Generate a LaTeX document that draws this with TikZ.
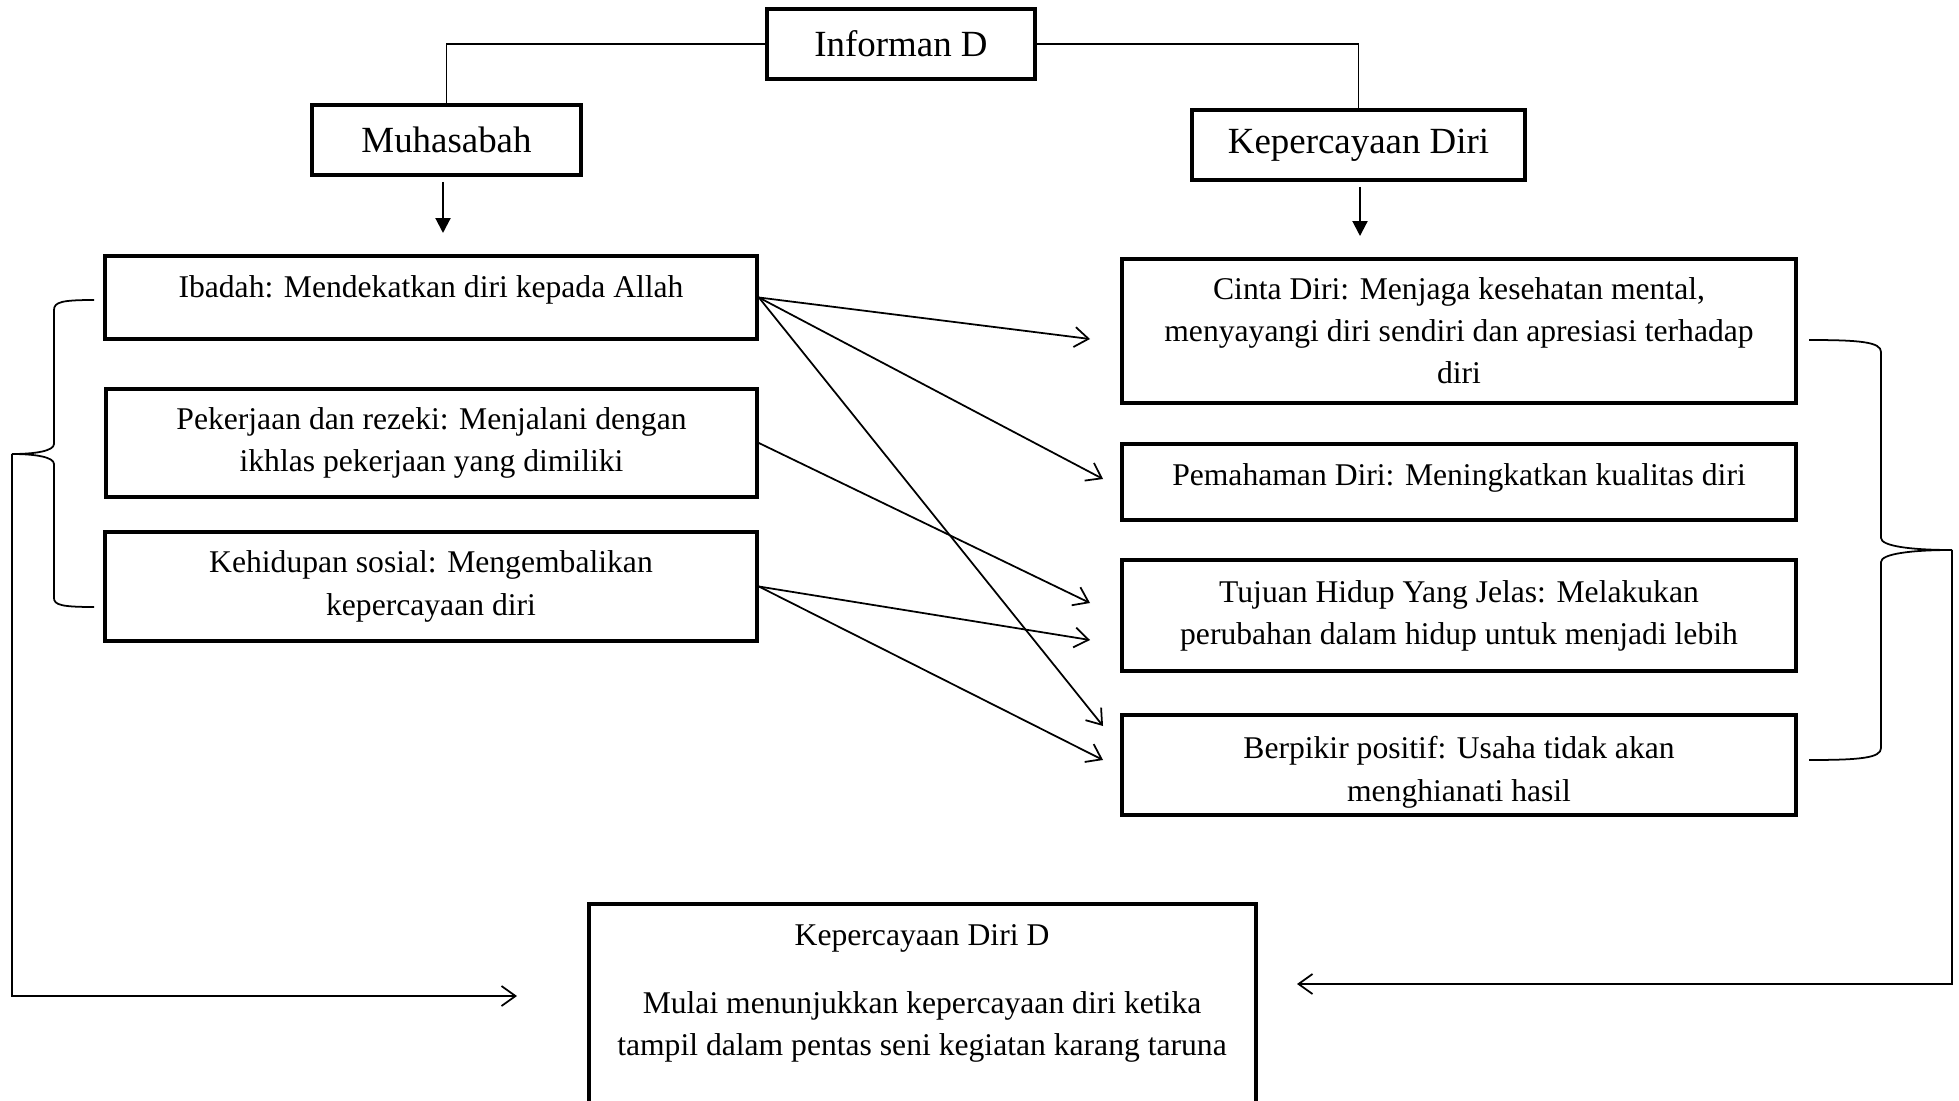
\documentclass[tikz,border=0pt]{standalone}
\usepackage{fontspec}
\setmainfont{Liberation Serif}
\usepackage{tikz}
\usetikzlibrary{arrows.meta, positioning, calc}

\tikzset{
    headbox/.style={draw, line width=2.2pt, minimum height=1.4cm, font=\fontsize{21}{26}\selectfont},
    itembox/.style={draw, line width=2.2pt, align=center, font=\fontsize{18}{24}\selectfont},
    itemtext/.style={align=center, font=\fontsize{18}{24}\selectfont},
    link/.style={line width=1pt},
    flow/.style={line width=1pt, -{Straight Barb[length=0.28cm, width=0.4cm]}},
    down/.style={line width=1.2pt, -{Triangle[length=0.3cm, width=0.3cm]}},
}

\begin{document}
\begin{tikzpicture}[x=0.02cm, y=-0.02cm]
    \useasboundingbox (0,0) rectangle (1959,1101);

    \node (info) [headbox, minimum width=5.36cm] at (901,44) {Informan D};
    \node (muh) [headbox, minimum width=5.38cm] at (446.5,140) {Muhasabah};
    \node (kep) [headbox, minimum width=6.66cm] at (1358.5,145) {Kepercayaan Diri};

    \node (ibd) [itembox, minimum width=13.04cm, minimum height=1.66cm, text depth=12.5pt] at (431,297.5) {Ibadah: Mendekatkan diri kepada Allah};
    \node (pkj) [itembox, minimum width=13.02cm, minimum height=2.16cm] at (431.5,443) {Pekerjaan dan rezeki: Menjalani dengan\\ikhlas pekerjaan yang dimiliki};
    \node (kso) [itembox, minimum width=13.04cm, minimum height=2.18cm] at (431,586.5) {Kehidupan sosial: Mengembalikan\\kepercayaan diri};

    \node (cin) [itembox, minimum width=13.48cm, minimum height=2.88cm] at (1459,331) {Cinta Diri: Menjaga kesehatan mental,\\menyayangi diri sendiri dan apresiasi terhadap\\diri};
    \node (pem) [itembox, minimum width=13.48cm, minimum height=1.52cm, text depth=8.5pt] at (1459,482) {Pemahaman Diri: Meningkatkan kualitas diri};
    \node (tuj) [itembox, minimum width=13.48cm, minimum height=2.22cm] at (1459,615.5) {Tujuan Hidup Yang Jelas: Melakukan\\perubahan dalam hidup untuk menjadi lebih};
    \node (bpk) [itembox, minimum width=13.48cm, minimum height=2cm, text height=45pt] at (1459,765) {Berpikir positif: Usaha tidak akan\\menghianati hasil};

    \node (kdd) [draw, line width=2.2pt, minimum width=13.34cm, minimum height=5cm, anchor=north] at (922.5,902) {};
    \node (kddtitle) [itemtext] at (922,938) {Kepercayaan Diri D};
    \node (kddbody) [itemtext] at (922,1027) {Mulai menunjukkan kepercayaan diri ketika\\tampil dalam pentas seni kegiatan karang taruna};

    \coordinate (muhtip) at (443,233);
    \coordinate (keptip) at (1360,236);
    \coordinate (a1) at (1090,339);
    \coordinate (a2) at (1103,479);
    \coordinate (a3) at (1103,726);
    \coordinate (a4) at (1090,603);
    \coordinate (a5) at (1090,640);
    \coordinate (a6) at (1103,760);
    \coordinate (lbrace) at (12,454);
    \coordinate (lend) at (517,996);
    \coordinate (rbrace) at (1952,550);
    \coordinate (rend) at (1297,984);

    \draw[link] (info.west) -| (muh.north);
    \draw[link] (info.east) -| (kep.north);
    \draw[down, shorten <=0.1cm] (muh.south -| muhtip) -- (muhtip);
    \draw[down, shorten <=0.1cm] (kep.south -| keptip) -- (keptip);

    \draw[flow] (ibd.east) -- (a1);
    \draw[flow] (ibd.east) -- (a2);
    \draw[flow] (ibd.east) -- (a3);
    \draw[flow] (pkj.east) -- (a4);
    \draw[flow] (kso.east) -- (a5);
    \draw[flow] (kso.east) -- (a6);

    \draw[link] (94,300) .. controls (62,300) and (54,302) .. (54,310) -- (54,444)
        .. controls (54,451) and (35,454) .. (lbrace)
        .. controls (35,454) and (54,457) .. (54,464) -- (54,598)
        .. controls (54,605) and (62,607) .. (94,607);
    \draw[link] (1809,340) .. controls (1860,340) and (1881,342) .. (1881,352) -- (1881,538)
        .. controls (1881,546) and (1910,550) .. (rbrace)
        .. controls (1910,550) and (1881,554) .. (1881,562) -- (1881,748)
        .. controls (1881,758) and (1860,760) .. (1809,760);

    \draw[flow] (lbrace) |- (lend);
    \draw[flow] (rbrace) |- (rend);
\end{tikzpicture}
\end{document}
